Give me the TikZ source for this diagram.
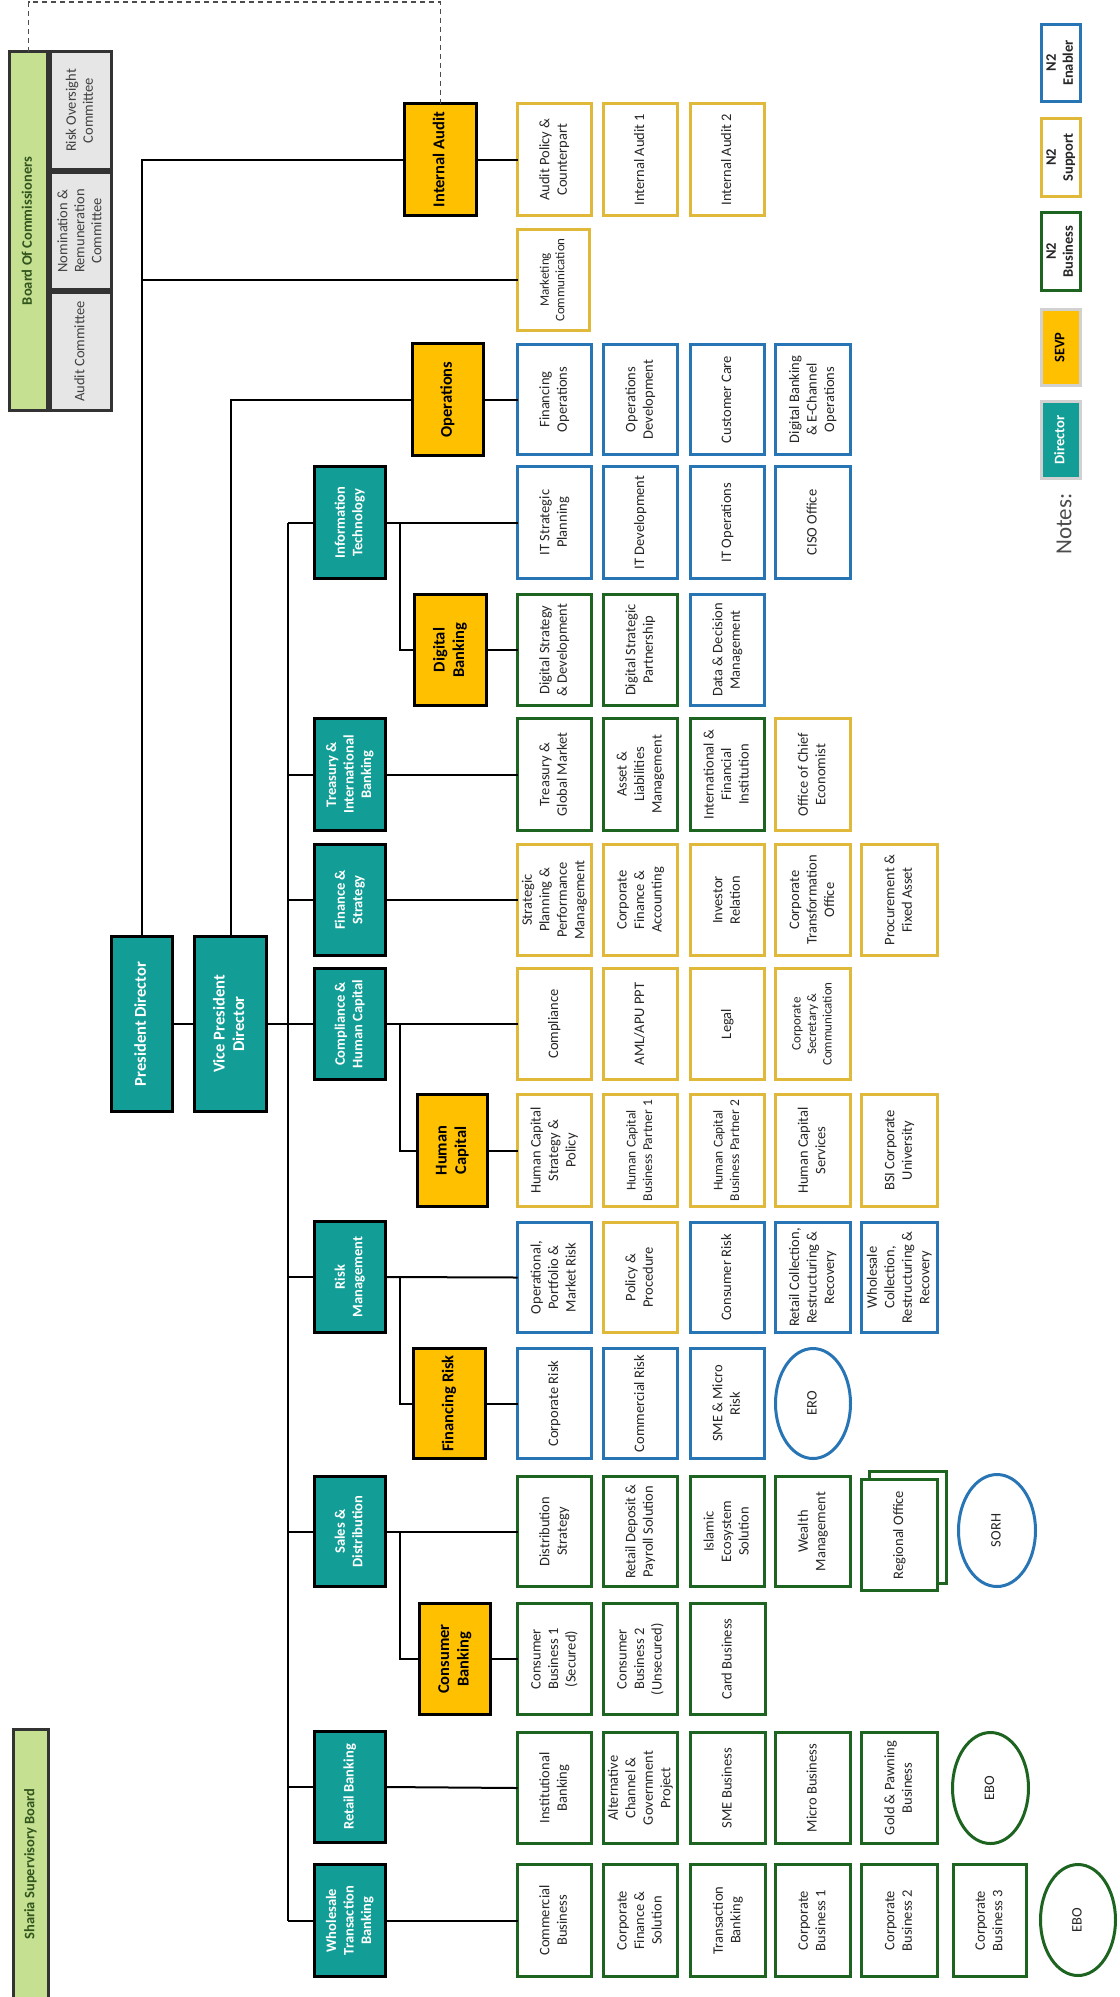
\documentclass[tikz,border=0pt]{standalone}
\usepackage{fontspec}
\setmainfont{Carlito}
\usetikzlibrary{shapes.geometric}
\definecolor{teal1}{RGB}{18,158,150}
\definecolor{sevpc}{RGB}{255,192,0}
\definecolor{gold1}{RGB}{224,184,58}
\definecolor{blue1}{RGB}{40,117,182}
\definecolor{grn1}{RGB}{28,100,32}
\definecolor{lgreen}{RGB}{197,224,145}
\definecolor{lgray}{RGB}{230,230,230}
\definecolor{bgreen}{RGB}{50,85,30}
\newcommand{\obox}[7]{%
  \pgfmathsetmacro\obw{#4-#2-3}%
  \pgfmathsetmacro\obh{#5-#3-3}%
  \node[#6, minimum width=\obw pt, minimum height=\obh pt] (#1) at ({(#2+#4)/2},{(#3+#5)/2}) {\rotatebox{90}{\begin{tabular}{@{}c@{}}#7\end{tabular}}};%
}
\tikzset{
  base/.style={inner sep=0pt, outer sep=0pt},
  fsub/.style={font=\fontsize{14.5}{17.5}\selectfont},
  smallf/.style={font=\fontsize{13}{15.5}\selectfont},
  tightf/.style={font=\fontsize{13.5}{16.5}\selectfont},
  boldf/.style={font=\bfseries\fontsize{14.5}{17}\selectfont},
  sub/.style={base, draw, fill=white, line width=3pt, text=black!85, fsub},
  gsub/.style={sub, draw=gold1},
  bsub/.style={sub, draw=blue1},
  nsub/.style={sub, draw=grn1},
  oval/.style={ellipse},
  dir/.style={base, draw=black, fill=teal1, line width=3.5pt, text=white, font=\bfseries\fontsize{14.5}{17.5}\selectfont},
  topdir/.style={dir, font=\bfseries\fontsize{16.5}{19.5}\selectfont},
  sevpbox/.style={base, draw=black, fill=sevpc, line width=3.5pt, text=black, font=\bfseries\fontsize{16.5}{19.5}\selectfont},
  comm/.style={base, draw=black!80, fill=lgray, line width=2.5pt, text=black!75, font=\fontsize{14.5}{17}\selectfont},
  board/.style={base, draw=black!80, fill=lgreen, line width=2.5pt, text=bgreen, font=\bfseries\fontsize{14.5}{17}\selectfont},
  conn/.style={line width=2pt, black},
  dashline/.style={draw=black!70, line width=1.3pt, dash pattern=on 5pt off 4pt},
}
\begin{document}
\begin{tikzpicture}[x=1pt,y=-1pt]
\useasboundingbox (0,0) rectangle (1119,1997);
\clip (0,0) rectangle (1119,1997);
\fill[white] (0,0) rectangle (1119,1997);

% Boards
\obox{boc}{8}{50}{49}{412}{board}{Board Of Commissioners}
\obox{roc}{49}{50}{113}{171}{comm}{Risk Oversight\\Committee}
\obox{nrc}{49}{171}{113}{291}{comm}{Nomination \&\\Remuneration\\Committee}
\obox{auc}{49}{291}{113}{412}{comm}{Audit Committee}
\obox{ssb}{12}{1728}{50}{2000}{board}{Sharia Supervisory Board}

% Top directors
\obox{pd}{110}{935}{174}{1113}{topdir}{President Director}
\obox{vp}{193}{935}{268}{1113}{topdir}{Vice President\\Director}

% Directors
\obox{it}{313}{465}{387}{580}{dir}{Information\\Technology}
\obox{tib}{313}{717}{387}{832}{dir}{Treasury \&\\International\\Banking}
\obox{fs}{313}{843}{387}{957}{dir}{Finance \&\\Strategy}
\obox{chc}{313}{967}{387}{1081}{dir}{Compliance \&\\Human Capital}
\obox{rm}{313}{1220}{387}{1334}{dir}{Risk\\Management}
\obox{sd}{313}{1475}{387}{1588}{dir}{Sales \&\\Distribution}
\obox{rb}{313}{1730}{387}{1844}{dir}{Retail Banking}
\obox{wtb}{313}{1863}{387}{1978}{dir}{Wholesale\\Transaction\\Banking}

% SEVP
\obox{ia}{403}{102}{478}{217}{sevpbox}{Internal Audit}
\obox{ops}{411}{342}{485}{457}{sevpbox}{Operations}
\obox{db}{413}{593}{488}{707}{sevpbox}{Digital\\Banking}
\obox{hc}{416}{1093}{489}{1208}{sevpbox}{Human\\Capital}
\obox{fr}{412}{1347}{487}{1460}{sevpbox}{Financing Risk}
\obox{cb}{418}{1602}{492}{1716}{sevpbox}{Consumer\\Banking}

% Internal audit row
\obox{ap}{516}{102}{593}{217}{gsub}{Audit Policy \&\\Counterpart}
\obox{ia1}{602}{102}{679}{217}{gsub}{Internal Audit 1}
\obox{ia2}{689}{102}{766}{217}{gsub}{Internal Audit 2}
\obox{mc}{516}{228}{591}{332}{gsub,smallf}{Marketing\\Communication}

% Operations row
\obox{fo}{516}{343}{593}{456}{bsub}{Financing\\Operations}
\obox{od}{602}{343}{679}{456}{bsub}{Operations\\Development}
\obox{cc}{689}{343}{766}{456}{bsub}{Customer Care}
\obox{dbe}{774}{343}{852}{456}{bsub}{Digital Banking\\\& E-Channel\\Operations}

% IT row
\obox{itsp}{516}{465}{593}{580}{bsub}{IT Strategic\\Planning}
\obox{itd}{602}{465}{679}{580}{bsub}{IT Development}
\obox{ito}{689}{465}{766}{580}{bsub}{IT Operations}
\obox{ciso}{774}{465}{852}{580}{bsub}{CISO Office}

% Digital banking row
\obox{dsd}{516}{593}{593}{707}{nsub}{Digital Strategy\\\& Development}
\obox{dsp}{602}{593}{679}{707}{nsub}{Digital Strategic\\Partnership}
\obox{ddm}{689}{593}{766}{707}{bsub}{Data \& Decision\\Management}

% Treasury row
\obox{tgm}{516}{717}{593}{832}{nsub}{Treasury \&\\Global Market}
\obox{alm}{602}{717}{679}{832}{nsub}{Asset \&\\Liabilities\\Management}
\obox{ifi}{689}{717}{766}{832}{nsub}{International \&\\Financial\\Institution}
\obox{oce}{774}{717}{852}{832}{gsub}{Office of Chief\\Economist}

% Finance row
\obox{sppm}{516}{843}{593}{957}{gsub}{Strategic\\Planning \&\\Performance\\Management}
\obox{cfa}{602}{843}{679}{957}{gsub}{Corporate\\Finance \&\\Accounting}
\obox{ir}{689}{843}{766}{957}{gsub}{Investor\\Relation}
\obox{cto}{774}{843}{852}{957}{gsub}{Corporate\\Transformation\\Office}
\obox{pfa}{860}{843}{939}{957}{gsub}{Procurement \&\\Fixed Asset}

% Compliance row
\obox{comp}{516}{967}{593}{1081}{gsub}{Compliance}
\obox{aml}{602}{967}{679}{1081}{gsub}{AML/APU PPT}
\obox{leg}{689}{967}{766}{1081}{gsub}{Legal}
\obox{csc}{774}{967}{852}{1081}{gsub,smallf}{Corporate\\Secretary \&\\Communication}

% Human capital row
\obox{hcsp}{516}{1093}{593}{1208}{gsub}{Human Capital\\Strategy \&\\Policy}
\obox{hcb1}{602}{1093}{679}{1208}{gsub,tightf}{Human Capital\\Business Partner 1}
\obox{hcb2}{689}{1093}{766}{1208}{gsub,tightf}{Human Capital\\Business Partner 2}
\obox{hcs}{774}{1093}{852}{1208}{gsub}{Human Capital\\Services}
\obox{bsi}{860}{1093}{939}{1208}{gsub}{BSI Corporate\\University}

% Risk row
\obox{opmr}{516}{1221}{593}{1334}{bsub}{Operational,\\Portfolio \&\\Market Risk}
\obox{pp}{602}{1221}{679}{1334}{gsub}{Policy \&\\Procedure}
\obox{cr2}{689}{1221}{766}{1334}{bsub}{Consumer Risk}
\obox{rcr}{774}{1221}{852}{1334}{bsub}{Retail Collection,\\Restructuring \&\\Recovery}
\obox{wcr}{860}{1221}{939}{1334}{bsub}{Wholesale\\Collection,\\Restructuring \&\\Recovery}

% Financing risk row
\obox{cr}{516}{1347}{593}{1460}{bsub}{Corporate Risk}
\obox{cmr}{602}{1347}{679}{1460}{bsub}{Commercial Risk}
\obox{smr}{689}{1347}{766}{1460}{bsub}{SME \& Micro\\Risk}
\obox{ero}{774}{1347}{852}{1460}{bsub,oval}{ERO}

% Sales row
\obox{dst}{516}{1475}{593}{1588}{nsub}{Distribution\\Strategy}
\obox{rdp}{602}{1475}{679}{1588}{nsub}{Retail Deposit \&\\Payroll Solution}
\obox{ies}{689}{1475}{766}{1588}{nsub}{Islamic\\Ecosystem\\Solution}
\obox{wm}{774}{1475}{852}{1588}{nsub}{Wealth\\Management}
\obox{rob}{868}{1470}{948}{1585}{nsub}{}
\obox{ro}{860}{1478}{939}{1592}{nsub}{Regional Office}
\obox{sorh}{957}{1473}{1037}{1588}{bsub,oval}{SORH}

% Consumer row
\obox{cb1}{516}{1602}{593}{1716}{nsub}{Consumer\\Business 1\\(Secured)}
\obox{cb2}{602}{1602}{679}{1716}{nsub}{Consumer\\Business 2\\(Unsecured)}
\obox{card}{689}{1602}{767}{1716}{nsub}{Card Business}

% Retail row
\obox{inst}{516}{1731}{593}{1845}{nsub}{Institutional\\Banking}
\obox{acg}{602}{1731}{679}{1845}{nsub}{Alternative\\Channel \&\\Government\\Project}
\obox{smeb}{689}{1731}{767}{1845}{nsub}{SME Business}
\obox{mb}{774}{1731}{852}{1845}{nsub}{Micro Business}
\obox{gpb}{860}{1731}{939}{1845}{nsub}{Gold \& Pawning\\Business}
\obox{eboa}{951}{1731}{1030}{1845}{nsub,oval}{EBO}

% Wholesale row
\obox{comb}{516}{1863}{593}{1978}{nsub}{Commercial\\Business}
\obox{cfs}{602}{1863}{679}{1978}{nsub}{Corporate\\Finance \&\\Solution}
\obox{tb}{689}{1863}{767}{1978}{nsub}{Transaction\\Banking}
\obox{cpb1}{774}{1863}{852}{1978}{nsub}{Corporate\\Business 1}
\obox{cpb2}{860}{1863}{939}{1978}{nsub}{Corporate\\Business 2}
\obox{cpb3}{952}{1863}{1028}{1978}{nsub}{Corporate\\Business 3}
\obox{ebob}{1039}{1863}{1117}{1977}{nsub,oval}{EBO}

% Legend
\obox{lgen}{1040}{23}{1082}{103}{bsub,boldf}{N2\\Enabler}
\obox{lgsu}{1040}{117}{1082}{198}{gsub,boldf}{N2\\Support}
\obox{lgbu}{1040}{211}{1082}{292}{nsub,boldf}{N2\\Business}
\obox{lgse}{1040}{308}{1082}{387}{base,fill=sevpc,draw=black!18,line width=3pt,boldf}{SEVP}
\obox{lgdi}{1040}{400}{1082}{480}{base,fill=teal1,draw=black!18,line width=3pt,text=white,boldf}{Director}
\node[rotate=90, inner sep=0pt, font=\fontsize{23}{26}\selectfont, text=black!70] (notes) at (1064,524) {Notes:};

% Connectors
\coordinate (dtop) at (0,2);
\coordinate (busx) at (288,0);
\coordinate (subx) at (400,0);
\draw[dashline] (boc.north) -- (boc.north |- dtop) -- (ia.north |- dtop) -- (ia.north);
\draw[conn] (pd.north) |- (ia.west);
\draw[conn] (pd.north |- mc.west) -- (mc.west);
\draw[conn] (ia.east) -- (ap.west);
\draw[conn] (vp.north) |- (ops.west);
\draw[conn] (ops.east) -- (fo.west);
\draw[conn] (pd.east) -- (vp.west);
\draw[conn] (vp.east) -- (busx |- vp.east);
\draw[conn] (busx |- it.west) -- (busx |- wtb.west);
\foreach \d/\s in {it/itsp, tib/tgm, fs/sppm, chc/comp, rm/opmr, sd/dst, rb/inst, wtb/comb}{
  \draw[conn] (busx |- \d.west) -- (\d.west);
  \draw[conn] (\d.east) -- (\s.west);
}
\foreach \d/\e/\s in {it/db/dsd, chc/hc/hcsp, rm/fr/cr, sd/cb/cb1}{
  \draw[conn] (subx |- \d.east) |- (\e.west);
  \draw[conn] (\e.east) -- (\s.west);
}
\end{tikzpicture}
\end{document}
